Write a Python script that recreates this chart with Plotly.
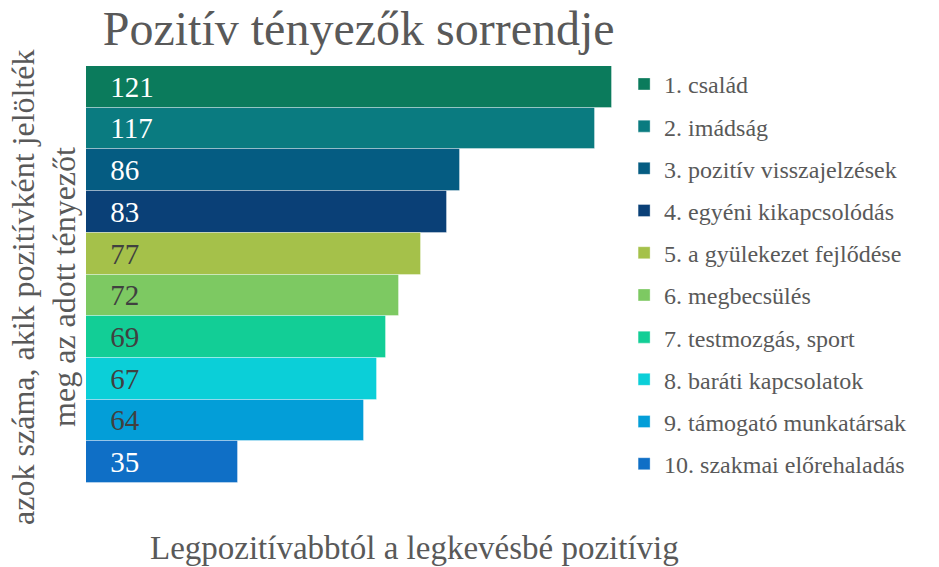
import plotly.graph_objects as go

# --- Adatok ---
categories = ['1. család', '2. imádság', '3. pozitív visszajelzések', '4. egyéni kikapcsolódás',
              '5. a gyülekezet fejlődése', '6. megbecsülés', '7. testmozgás, sport',
              '8. baráti kapcsolatok', '9. támogató munkatársak', '10. szakmai előrehaladás']
values = [121, 117, 86, 83, 77, 72, 69, 67, 64, 35]
colors = ['#0B7B5C', '#0A7B80', '#055C82', '#0A4077', '#A5C14A',
          '#7DC962', '#12CE96', '#0BCFD8', '#039ED8', '#0F6FC6']
text_colors = ['white', 'white', 'white', 'white', '#404040',
               '#404040', '#404040', '#404040', '#404040', 'white']

FONT = 'Liberation Serif'
GREY = '#595959'

fig = go.Figure()
for i, (cat, val) in enumerate(zip(categories, values)):
    fig.add_trace(go.Bar(
        x=[val], y=[cat], orientation='h',
        name=cat, legendgroup=f'g{i}',
        marker=dict(color=colors[i], line=dict(color='rgba(255,255,255,0.35)', width=1)),
        text=[val], texttemplate='\u00a0\u00a0\u00a0%{x}',
        textposition='inside', insidetextanchor='start',
        textfont=dict(family=FONT, size=29, color=text_colors[i]),
        hovertemplate='%{y}: %{x}<extra></extra>'
    ))

fig.update_layout(
    width=939, height=567,
    barmode='overlay', bargap=0,
    plot_bgcolor='white', paper_bgcolor='white',
    margin=dict(l=86, r=327, t=66, b=84),
    font=dict(family=FONT, color=GREY),
    title=dict(text='Pozitív tényezők sorrendje', x=0.382, xanchor='center',
               y=0.95, yanchor='middle', font=dict(family=FONT, size=48, color=GREY)),
    legend=dict(x=1.023, xanchor='left', y=1.01, yanchor='top', maxheight=560,
                font=dict(family=FONT, size=24, color=GREY), tracegroupgap=8,
                itemwidth=30),
    annotations=[
        dict(text='azok száma, akik pozitívként jelölték', xref='paper', yref='paper',
             x=-0.12, y=0.47, xanchor='center', yanchor='middle',
             textangle=-90, showarrow=False,
             font=dict(family=FONT, size=32, color=GREY)),
        dict(text='meg az adott tényezőt', xref='paper', yref='paper',
             x=-0.042, y=0.47, xanchor='center', yanchor='middle',
             textangle=-90, showarrow=False,
             font=dict(family=FONT, size=32, color=GREY)),
        dict(text='Legpozitívabbtól a legkevésbé pozitívig', xref='paper', yref='paper',
             x=0.625, y=-0.156, xanchor='center', yanchor='middle', showarrow=False,
             font=dict(family=FONT, size=33, color=GREY)),
    ],
)
fig.update_xaxes(range=[0, 121], visible=False)
fig.update_yaxes(autorange='reversed', showticklabels=False, showgrid=False,
                 zeroline=False, showline=False, ticks='')

fig.write_html('out.html', config={'displayModeBar': False},
               post_script="document.body.style.margin='0';")
